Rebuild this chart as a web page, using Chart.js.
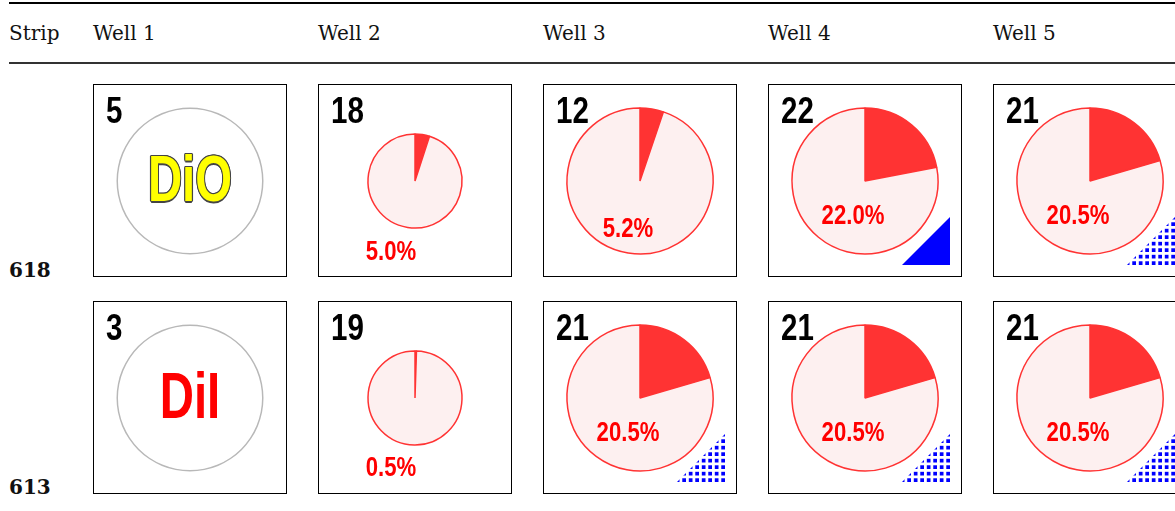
<!DOCTYPE html>
<html>
<head>
<meta charset="utf-8">
<script src="https://cdn.jsdelivr.net/npm/chart.js@4.4.1/dist/chart.umd.min.js"></script>
<style>
  body { margin:0; width:1175px; height:511px; overflow:hidden; background:#fff; position:relative; font-family:"DejaVu Serif", serif; }
  .rule-top { position:absolute; left:9px; right:0; top:2px; height:2px; background:#000; }
  .rule-mid { position:absolute; left:9px; right:0; top:62px; height:1.5px; background:#333; }
  .head { position:absolute; top:23px; font-size:20px; line-height:1; color:#111; white-space:nowrap; }
  .strip { position:absolute; left:9px; font-size:20px; line-height:1; font-weight:bold; color:#111; }
  .cell { position:absolute; width:194px; height:193px; }
  .frame { position:absolute; left:0; top:0; width:194px; height:193px; border:1.5px solid #000; box-sizing:border-box; }
  .cell canvas { position:absolute; left:0; top:0; }
  .num { position:absolute; left:13px; top:9px; font:bold 36px/1 "Liberation Sans", Arial, sans-serif; color:#000; transform:scaleX(0.82); transform-origin:left top; }
  .pct { position:absolute; font:bold 27px/1 "Liberation Sans", Arial, sans-serif; color:#f00; white-space:nowrap; transform:translateX(-50%) scaleX(0.82); }
  .dye { position:absolute; left:97px; font:bold 64px/1 "Liberation Sans", Arial, sans-serif; white-space:nowrap; transform:translateX(-50%) scaleX(0.74); }
  .dye.dio { color:#ffff00; text-shadow:-1.5px 0 0 #444, 1.5px 0 0 #444, 0 -1.5px 0 #444, 0 1.5px 0 #444, -1px -1px 0 #444, 1px -1px 0 #444, -1px 1px 0 #444, 1px 1px 0 #444; }
  .dye.dii { color:#ff0000; }
  .tri { position:absolute; right:12px; bottom:12px; width:48px; height:48px; clip-path:polygon(100% 0, 100% 100%, 0 100%); }
  .tri.solid { background:#0000ff; }
  .tri.dotted { background:conic-gradient(from 90deg at 3px 3px, #0000ff 90deg, transparent 0) right bottom / 6.5px 6.5px; }
</style>
</head>
<body>
<div class="rule-top"></div>
<div class="rule-mid"></div>
<div id="page"></div>
<script>
// table content
const strips = ["618", "613"];
const wells = ["Well 1", "Well 2", "Well 3", "Well 4", "Well 5"];
const dyes = ["DiO", "DiI"];
const counts618 = [5, 18, 12, 22, 21];
const counts613 = [3, 19, 21, 21, 21];
const percent618 = [null, 5.0, 5.2, 22.0, 20.5];
const percent613 = [null, 0.5, 20.5, 20.5, 20.5];
const marker618 = [null, null, null, "solid", "dotted"];
const marker613 = [null, null, "dotted", "dotted", "dotted"];

const counts = [counts618, counts613];
const percents = [percent618, percent613];
const markers = [marker618, marker613];

// layout
const colLeft = 93, colStep = 225;
const rowTops = [84, 301];
const stripTop = [260, 477];
const labelCenterY = [[null, 167, 144, 131, 131], [null, 166, 131, 131, 131]];

const page = document.getElementById("page");

const strip = document.createElement("div");
strip.className = "head";
strip.style.left = "9px";
strip.textContent = "Strip";
page.appendChild(strip);

wells.forEach((w, i) => {
  const h = document.createElement("div");
  h.className = "head";
  h.style.left = (colLeft + colStep * i) + "px";
  h.textContent = w;
  page.appendChild(h);
});

const noUi = {
  responsive: false,
  animation: false,
  events: [],
  layout: { padding: 0 },
  plugins: { legend: { display: false }, tooltip: { enabled: false } }
};

strips.forEach((s, r) => {
  const lab = document.createElement("div");
  lab.className = "strip";
  lab.style.top = stripTop[r] + "px";
  lab.textContent = s;
  page.appendChild(lab);

  wells.forEach((w, i) => {
    const cell = document.createElement("div");
    cell.className = "cell";
    cell.style.left = (colLeft + colStep * i) + "px";
    cell.style.top = rowTops[r] + "px";

    const canvas = document.createElement("canvas");
    canvas.width = 194;
    canvas.height = 194;
    cell.appendChild(canvas);

    const frame = document.createElement("div");
    frame.className = "frame";
    cell.appendChild(frame);

    const num = document.createElement("div");
    num.className = "num";
    num.textContent = counts[r][i];
    cell.appendChild(num);

    const p = percents[r][i];
    if (p === null) {
      const dye = document.createElement("div");
      dye.className = "dye " + (r === 0 ? "dio" : "dii");
      dye.style.top = (r === 0 ? 63 : 62.5) + "px";
      dye.textContent = dyes[r];
      cell.appendChild(dye);
    } else {
      const lab = document.createElement("div");
      lab.className = "pct";
      lab.style.left = (i === 1 ? 72.5 : 84.5) + "px";
      lab.style.top = (labelCenterY[r][i] - 13.2) + "px";
      lab.textContent = p.toFixed(1) + "%";
      cell.appendChild(lab);
    }

    if (markers[r][i]) {
      const tri = document.createElement("div");
      tri.className = "tri " + markers[r][i];
      cell.appendChild(tri);
    }

    page.appendChild(cell);

    if (p === null) {
      // dye-only well: thin grey ring, no slices
      new Chart(canvas, {
        type: "doughnut",
        data: {
          labels: [dyes[r]],
          datasets: [{
            data: [1],
            backgroundColor: ["#b8b8b8"],
            borderWidth: 0
          }]
        },
        options: { ...noUi, radius: 73.5, cutout: "98%" }
      });
    } else {
      new Chart(canvas, {
        type: "pie",
        data: {
          labels: ["labelled", "unlabelled"],
          datasets: [{
            data: [p, 100 - p],
            backgroundColor: ["#ff3333", "#fdf0f0"],
            borderColor: "#ff3333",
            borderWidth: 1.5,
            radius: i === 1 ? 47 : 73
          }]
        },
        options: noUi
      });
    }
  });
});
</script>
</body>
</html>
